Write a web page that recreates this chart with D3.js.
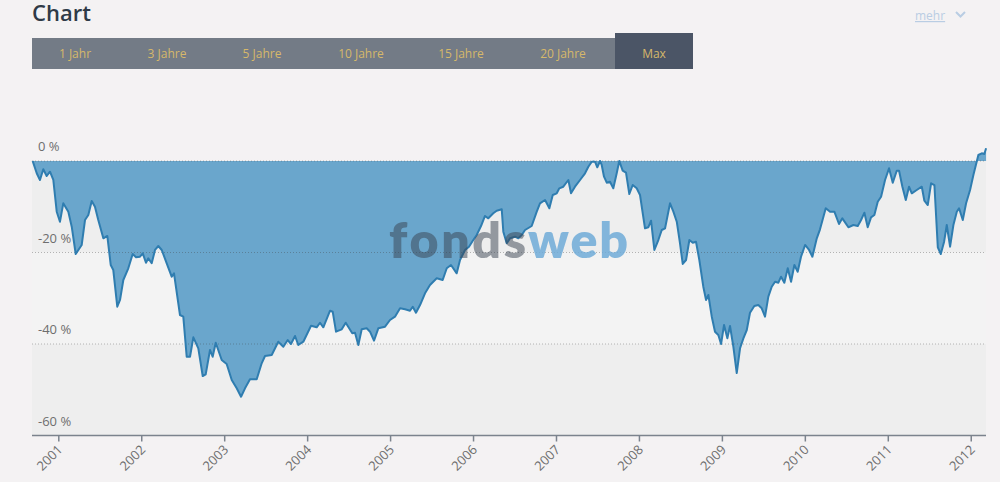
<!doctype html>
<html>
<head>
<meta charset="utf-8">
<style>
    body { margin: 0; background: #f4f2f3; }
    svg { display: block; font-family: "Open Sans", sans-serif; }
    .ylabel, .xlabel { fill: #6e6e6e; font-size: 13px; }
    .btn text { fill: #d6b86a; font-size: 12px; }
</style>
<script src="https://d3js.org/d3.v7.min.js"></script>
</head>
<body>
<svg width="1000" height="482"></svg>
<script>
// drawdown in % over time (decimal years)
var dates = [
    2000.691, 2000.740, 2000.779, 2000.819, 2000.860, 2000.900, 2000.940, 2000.981, 2001.020, 2001.060,
    2001.121, 2001.162, 2001.210, 2001.282, 2001.322, 2001.362, 2001.403, 2001.442, 2001.482, 2001.543,
    2001.591, 2001.632, 2001.663, 2001.711, 2001.744, 2001.784, 2001.844, 2001.897, 2001.937, 2001.985,
    2002.018, 2002.057, 2002.085, 2002.126, 2002.166, 2002.206, 2002.247, 2002.307, 2002.367, 2002.395,
    2002.467, 2002.507, 2002.548, 2002.588, 2002.628, 2002.688, 2002.741, 2002.777, 2002.829, 2002.861,
    2002.898, 2002.970, 2003.030, 2003.091, 2003.151, 2003.203, 2003.251, 2003.311, 2003.392, 2003.452,
    2003.492, 2003.573, 2003.652, 2003.713, 2003.766, 2003.805, 2003.854, 2003.893, 2003.954, 2004.047,
    2004.115, 2004.155, 2004.195, 2004.276, 2004.308, 2004.348, 2004.417, 2004.465, 2004.544, 2004.577,
    2004.617, 2004.658, 2004.718, 2004.758, 2004.806, 2004.858, 2004.939, 2004.999, 2005.059, 2005.120,
    2005.180, 2005.240, 2005.273, 2005.312, 2005.361, 2005.421, 2005.481, 2005.562, 2005.634, 2005.683,
    2005.734, 2005.803, 2005.843, 2005.903, 2005.951, 2006.003, 2006.044, 2006.096, 2006.144, 2006.184,
    2006.244, 2006.285, 2006.346, 2006.365, 2006.406, 2006.446, 2006.506, 2006.546, 2006.587, 2006.627,
    2006.707, 2006.768, 2006.807, 2006.868, 2006.920, 2006.961, 2007.009, 2007.040, 2007.088, 2007.149,
    2007.181, 2007.229, 2007.290, 2007.350, 2007.390, 2007.431, 2007.470, 2007.498, 2007.531, 2007.551,
    2007.579, 2007.612, 2007.651, 2007.691, 2007.732, 2007.763, 2007.804, 2007.844, 2007.884, 2007.925,
    2007.973, 2008.013, 2008.073, 2008.113, 2008.146, 2008.186, 2008.234, 2008.275, 2008.315, 2008.375,
    2008.415, 2008.456, 2008.495, 2008.528, 2008.568, 2008.608, 2008.649, 2008.688, 2008.728, 2008.776,
    2008.809, 2008.837, 2008.878, 2008.917, 2008.957, 2008.990, 2009.026, 2009.066, 2009.098, 2009.138,
    2009.179, 2009.219, 2009.259, 2009.300, 2009.339, 2009.391, 2009.439, 2009.480, 2009.520, 2009.560,
    2009.601, 2009.641, 2009.681, 2009.713, 2009.753, 2009.794, 2009.834, 2009.874, 2009.914, 2009.954,
    2010.003, 2010.051, 2010.091, 2010.144, 2010.183, 2010.252, 2010.304, 2010.356, 2010.412, 2010.452,
    2010.525, 2010.585, 2010.638, 2010.678, 2010.718, 2010.758, 2010.798, 2010.838, 2010.879, 2010.919,
    2010.967, 2011.015, 2011.060, 2011.108, 2011.136, 2011.176, 2011.217, 2011.256, 2011.289, 2011.349,
    2011.410, 2011.441, 2011.482, 2011.522, 2011.562, 2011.603, 2011.639, 2011.679, 2011.711, 2011.751,
    2011.791, 2011.832, 2011.859, 2011.904, 2011.944, 2011.992, 2012.032, 2012.092, 2012.133, 2012.164,
    2012.185
];
var values = [
    0.00, -2.69, -4.15, -1.81, -3.28, -2.34, -4.15, -11.08, -13.27, -9.25,
    -11.08, -14.36, -20.33, -18.36, -12.90, -11.80, -8.74, -9.99, -12.90, -16.90,
    -16.39, -22.73, -23.83, -31.85, -30.38, -26.01, -23.45, -20.33, -21.05, -20.92,
    -20.18, -22.23, -21.27, -22.36, -19.45, -18.58, -19.45, -22.36, -25.29, -24.55,
    -33.66, -34.03, -42.78, -42.78, -38.54, -40.94, -47.00, -46.63, -41.31, -42.78,
    -39.72, -43.50, -44.37, -47.87, -49.69, -51.52, -49.69, -47.72, -47.72, -44.22,
    -42.63, -42.41, -39.50, -40.59, -39.13, -40.00, -38.25, -40.22, -39.50, -36.00,
    -36.35, -35.35, -36.35, -32.72, -32.94, -37.31, -36.79, -35.35, -37.66, -37.53,
    -40.22, -36.79, -36.57, -37.31, -39.28, -36.57, -36.22, -34.76, -34.03, -32.20,
    -32.42, -32.72, -31.85, -33.16, -31.48, -28.92, -27.10, -25.64, -26.01, -23.45,
    -22.73, -24.55, -21.64, -19.45, -18.73, -17.27, -16.18, -14.21, -12.02, -12.53,
    -11.43, -10.86, -10.56, -15.45, -17.99, -16.90, -16.55, -16.90, -16.18, -15.08,
    -14.21, -11.08, -9.25, -8.52, -10.34, -7.43, -7.06, -5.97, -5.62, -4.15,
    -7.06, -5.62, -4.15, -2.69, -1.25, -0.15, -0.15, -1.38, 0.00, -0.87,
    -3.43, -4.74, -4.52, -5.97, -2.69, 0.00, -2.12, -2.56, -7.21, -5.25,
    -5.97, -7.43, -14.71, -14.49, -13.05, -19.45, -17.27, -15.08, -14.71, -9.25,
    -11.08, -13.27, -17.99, -22.51, -21.64, -17.27, -17.86, -17.64, -21.64, -27.48,
    -30.38, -29.29, -34.03, -37.31, -38.03, -40.00, -35.85, -38.76, -36.07, -40.59,
    -46.34, -40.94, -38.76, -36.94, -33.16, -31.70, -31.48, -32.20, -34.03, -29.66,
    -27.48, -26.38, -26.60, -25.29, -26.60, -23.45, -26.38, -22.73, -24.20, -20.92,
    -18.36, -19.45, -20.92, -16.90, -14.93, -10.34, -11.08, -11.08, -13.77, -12.53,
    -14.49, -13.99, -14.21, -12.90, -11.30, -14.49, -12.31, -11.80, -8.90, -7.80,
    -4.15, -1.60, -4.74, -2.12, -2.12, -5.62, -8.52, -5.62, -7.06, -6.34,
    -5.62, -8.68, -9.62, -4.87, -5.25, -18.86, -20.33, -17.64, -13.99, -18.73,
    -13.99, -11.08, -10.34, -12.90, -9.25, -6.34, -3.06, 1.31, 1.68, 1.53,
    2.78
];
var years = [2001, 2002, 2003, 2004, 2005, 2006, 2007, 2008, 2009, 2010, 2011, 2012];
var yTicks = [0, -20, -40, -60];
var buttons = ["1 Jahr", "3 Jahre", "5 Jahre", "10 Jahre", "15 Jahre", "20 Jahre", "Max"];

var svg = d3.select("svg");
var plotLeft = 32, plotRight = 986, plotTop = 115.25, plotBottom = 435.5;

var x = d3.scaleLinear().domain([2000.683, 2012.184]).range([plotLeft, plotRight]);
var y = d3.scaleLinear().domain([-60, 10]).range([plotBottom, plotTop]);

var data = dates.map(function(d, i) { return { t: d, v: values[i] }; });

// title
svg.append("text")
   .attr("x", 32).attr("y", 21)
   .attr("fill", "#2f3a47")
   .attr("font-size", "22px")
   .attr("font-weight", 600)
   .text("Chart");

// mehr link
svg.append("text")
   .attr("x", 915).attr("y", 20)
   .attr("fill", "#b9cde3")
   .attr("font-size", "12px")
   .attr("text-decoration", "underline")
   .text("mehr");
svg.append("path")
   .attr("d", "M956,12 L960.5,16.5 L965,12")
   .attr("fill", "none")
   .attr("stroke", "#b9cde3")
   .attr("stroke-width", 2);

// button bar
var btnCenters = [75, 167, 262, 361, 461, 563, 654];
svg.append("rect")
   .attr("x", 32).attr("y", 38).attr("width", 583).attr("height", 31)
   .attr("fill", "#737b86");
svg.append("rect")
   .attr("x", 615).attr("y", 33).attr("width", 78).attr("height", 36)
   .attr("fill", "#4b5566");
var btn = svg.append("g").attr("class", "btn");
btn.selectAll("text")
   .data(buttons)
   .enter().append("text")
   .attr("x", function(d, i) { return btnCenters[i]; })
   .attr("y", 58)
   .attr("text-anchor", "middle")
   .text(function(d) { return d; });

// alternating plot bands
var bands = [[0, -20, "#eeeeee"], [-20, -40, "#f3f3f3"], [-40, -60, "#eeeeee"]];
svg.selectAll(".band")
   .data(bands)
   .enter().append("rect")
   .attr("class", "band")
   .attr("x", plotLeft)
   .attr("width", plotRight - plotLeft)
   .attr("y", function(d) { return y(d[0]); })
   .attr("height", function(d) { return y(d[1]) - y(d[0]); })
   .attr("fill", function(d) { return d[2]; });

// area + line
var area = d3.area()
    .x(function(d) { return x(d.t); })
    .y0(y(0))
    .y1(function(d) { return y(d.v); });
var line = d3.line()
    .x(function(d) { return x(d.t); })
    .y(function(d) { return y(d.v); });

svg.append("path")
   .datum(data)
   .attr("d", area)
   .attr("fill", "#6aa6cc");

// grid lines
svg.selectAll(".grid")
   .data(yTicks.filter(function(d) { return d > -60; }))
   .enter().append("line")
   .attr("class", "grid")
   .attr("x1", plotLeft).attr("x2", plotRight)
   .attr("y1", function(d) { return y(d); })
   .attr("y2", function(d) { return y(d); })
   .attr("stroke", "rgba(60,60,60,0.35)")
   .attr("stroke-dasharray", "1,2");

svg.append("path")
   .datum(data)
   .attr("d", line)
   .attr("fill", "none")
   .attr("stroke", "#2f7db0")
   .attr("stroke-width", 2)
   .attr("stroke-linejoin", "round");

// watermark
var wm = svg.append("text")
   .attr("y", 258)
   .attr("font-size", "50px")
   .attr("font-weight", 800)
   .attr("font-family", "Lato, 'Open Sans', sans-serif");
wm.append("tspan").attr("x", 389).attr("textLength", 137)
  .attr("fill", "rgba(55,65,80,0.5)").text("fonds");
wm.append("tspan").attr("x", 528).attr("textLength", 100)
  .attr("fill", "rgba(110,170,215,0.85)").text("web");

// y labels
svg.selectAll(".ylabel")
   .data(yTicks)
   .enter().append("text")
   .attr("class", "ylabel")
   .attr("x", 38)
   .attr("y", function(d) { return y(d) - 10; })
   .text(function(d) { return d + " %"; });

// x axis
var xAxis = svg.append("g")
   .attr("transform", "translate(0," + plotBottom + ")")
   .call(d3.axisBottom(x).tickValues(years).tickSize(6).tickFormat(""));
xAxis.select(".domain").attr("stroke", "#7b838d").attr("stroke-width", 1.5)
   .attr("d", "M" + plotLeft + ",0H" + plotRight);
xAxis.selectAll(".tick line").attr("stroke", "#7b838d").attr("stroke-width", 1.5);

svg.selectAll(".xlabel")
   .data(years)
   .enter().append("text")
   .attr("class", "xlabel")
   .attr("text-anchor", "end")
   .attr("transform", function(d) { return "translate(" + (x(d) + 5) + "," + (plotBottom + 15) + ") rotate(-45)"; })
   .text(function(d) { return d; });
</script>
</body>
</html>
